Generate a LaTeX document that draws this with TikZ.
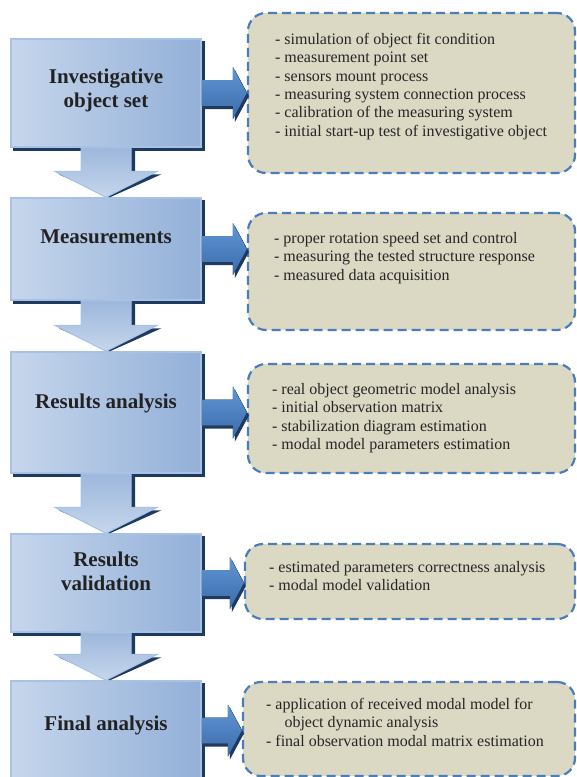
\documentclass[tikz,border=0pt]{standalone}
\usepackage{fontspec}
\setmainfont{Liberation Serif}
\usetikzlibrary{calc, backgrounds}
\definecolor{stagelight}{HTML}{C6D6EC}
\definecolor{stagedark}{HTML}{93B0D8}
\definecolor{stageedge}{HTML}{A8C2E6}
\definecolor{shadowblue}{HTML}{1F3A5F}
\definecolor{arrowlight}{HTML}{6096D4}
\definecolor{arrowdark}{HTML}{3B6BAA}
\definecolor{infofill}{HTML}{DBD8C3}
\definecolor{infoedge}{HTML}{4A7EBB}
\definecolor{titlegray}{HTML}{222222}
\definecolor{textgray}{HTML}{262626}

\begin{document}
\begin{tikzpicture}[x=1pt, y=-1pt,
    stage/.style={rectangle, draw=stageedge, line width=1.5pt, left color=stagelight, right color=stagedark,
      minimum width=190pt},
    darkshift/.style={transform canvas={xshift=#1, yshift=-3pt}},
    title/.style={font=\bfseries\fontsize{21}{24}\selectfont, text=titlegray, align=center},
    info/.style={rectangle, rounded corners=18pt, fill=infofill, draw=infoedge, dash pattern=on 9pt off 5pt,
      line width=2.2pt, minimum width=327pt},
    infotext/.style={font=\fontsize{16}{18.4}\selectfont, text=textgray, align=left, anchor=north west, inner sep=0pt}]
  \useasboundingbox (0,0) rectangle (577,777);

  % stages on the left
  \node[stage, minimum height=108pt] (b1) at (106,93) {};
  \node[stage, minimum height=102pt] (b2) at (106,249) {};
  \node[stage, minimum height=121pt] (b3) at (106,412.5) {};
  \node[stage, minimum height=98pt] (b4) at (106,583) {};
  \node[stage, minimum height=99pt] (b5) at (106,730.5) {};
  \begin{scope}[on background layer]
    \foreach \s in {b1,b2,b3,b4,b5}
      \fill[shadowblue, darkshift=3pt] (\s.north west) rectangle (\s.south east);
  \end{scope}

  % down arrows between stages
  \foreach \a/\b in {b1/b2, b2/b3, b3/b4, b4/b5} {
    \fill[shadowblue, darkshift=4pt] ($(\a.south)+(-25,0)$) -- ($(\a.south)+(25,0)$) -- ($(\b.north)+(25,-26)$)
      -- ($(\b.north)+(51.5,-26)$) -- ($(\b.north)+(0,-3)$) -- ($(\b.north)+(-51.5,-26)$) -- ($(\b.north)+(-25,-26)$) -- cycle;
    \draw[stageedge, line width=1pt, top color=stagedark!80!stagelight, bottom color=stagelight]
      ($(\a.south)+(-25,0)$) -- ($(\a.south)+(25,0)$) -- ($(\b.north)+(25,-26)$)
      -- ($(\b.north)+(51.5,-26)$) -- (\b.north) -- ($(\b.north)+(-51.5,-26)$) -- ($(\b.north)+(-25,-26)$) -- cycle;
  }

  \node[title] (t1) at (106,90) {Investigative\\object set};
  \node[title] (t2) at (106,237) {Measurements};
  \node[title] (t3) at (106,403) {Results analysis};
  \node[title] (t4) at (106,571) {Results\\validation};
  \node[title] (t5) at (106,725) {Final analysis};

  % task boxes on the right
  \node[info, minimum height=160pt] (r1) at (411.5,93) {};
  \node[info, minimum height=117pt] (r2) at (411.5,271.5) {};
  \node[info, minimum height=109pt] (r3) at (411.5,418.5) {};
  \node[info, minimum height=75pt, minimum width=330pt] (r4) at (410,581.5) {};
  \node[info, minimum height=94pt, minimum width=332pt] (r5) at (409,729) {};

  % right arrows
  \foreach \a/\b in {b1/r1, b2/r2, b3/r3, b4/r4, b5/r5} {
    \coordinate (tip) at (\b.west |- \a.east);
    \fill[shadowblue, darkshift=2pt] ($(\a.east)+(0,-13)$) -- ($(tip)+(-14,-13)$) -- ($(tip)+(-14,-26)$) -- (tip)
      -- ($(tip)+(-14,26)$) -- ($(tip)+(-14,13)$) -- ($(\a.east)+(0,13)$) -- cycle;
    \fill[top color=arrowlight, bottom color=arrowdark] ($(\a.east)+(0,-13)$) -- ($(tip)+(-14,-13)$)
      -- ($(tip)+(-14,-26)$) -- (tip) -- ($(tip)+(-14,26)$) -- ($(tip)+(-14,13)$) -- ($(\a.east)+(0,13)$) -- cycle;
  }

  \node[infotext] (l1) at ($(r1.north west)+(28,21)$) {- simulation of object fit condition\\
    - measurement point set\\
    - sensors mount process\\
    - measuring system connection process\\
    - calibration of the measuring system\\
    - initial start-up test of investigative object};
  \node[infotext] (l2) at ($(r2.north west)+(27,20)$) {- proper rotation speed set and control\\
    - measuring the tested structure response\\
    - measured data acquisition};
  \node[infotext] (l3) at ($(r3.north west)+(25,20)$) {- real object geometric model analysis\\
    - initial observation matrix\\
    - stabilization diagram estimation\\
    - modal model parameters estimation};
  \node[infotext] (l4) at ($(r4.north west)+(25,18)$) {- estimated parameters correctness analysis\\
    - modal model validation};
  \node[infotext] (l5) at ($(r5.north west)+(24,17)$) {- application of received modal model for\\
    \hspace*{1.15em}object dynamic analysis\\
    - final observation modal matrix estimation};
\end{tikzpicture}
\end{document}
